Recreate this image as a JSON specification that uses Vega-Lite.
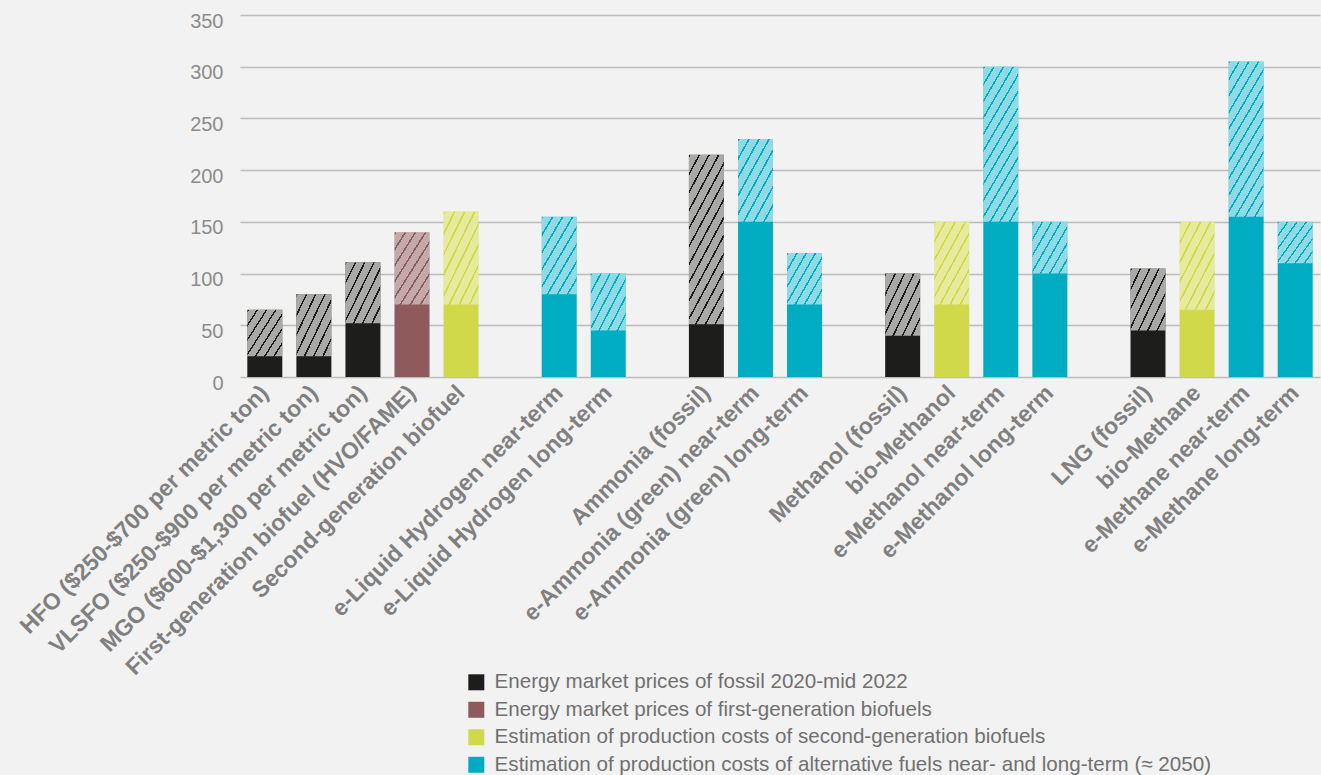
{
  "$schema": "https://vega.github.io/schema/vega-lite/v6.json",
  "width": 1080,
  "height": 362,
  "autosize": "none",
  "padding": {"left": 240, "top": 15, "right": 1, "bottom": 398},
  "background": "#f2f2f2",
  "config": {
    "view": {"stroke": null},
    "font": "Liberation Sans",
    "axisY": {
      "title": null,
      "values": [0, 50, 100, 150, 200, 250, 300, 350],
      "labelFont": "Liberation Sans",
      "labelFontSize": 20,
      "labelColor": "#8c8c8c",
      "labelPadding": 17,
      "labelOffset": 6,
      "ticks": false,
      "domain": false,
      "grid": true,
      "gridColor": "#bcbcbc",
      "gridWidth": 1.6
    },
    "legend": {
      "orient": "none",
      "legendX": 226,
      "legendY": 657,
      "title": null,
      "padding": 0,
      "symbolType": "square",
      "symbolSize": 256,
      "symbolStrokeWidth": 0,
      "symbolOpacity": 1,
      "labelFont": "Liberation Sans",
      "labelFontSize": 20.6,
      "labelColor": "#707070",
      "labelOffset": 8,
      "labelLimit": 1000,
      "rowPadding": 6.5
    }
  },
  "data": {
    "values": [
      {"fuel": "HFO ($250-$700 per metric ton)", "series": "Energy market prices of fossil 2020-mid 2022", "low": 20, "high": 65},
      {"fuel": "VLSFO ($250-$900 per metric ton)", "series": "Energy market prices of fossil 2020-mid 2022", "low": 20, "high": 80},
      {"fuel": "MGO ($600-$1,300 per metric ton)", "series": "Energy market prices of fossil 2020-mid 2022", "low": 52, "high": 111},
      {"fuel": "First-generation biofuel (HVO/FAME)", "series": "Energy market prices of first-generation biofuels", "low": 70, "high": 140},
      {"fuel": "Second-generation biofuel", "series": "Estimation of production costs of second-generation biofuels", "low": 70, "high": 160},
      {"fuel": "e-Liquid Hydrogen near-term", "series": "Estimation of production costs of alternative fuels near- and long-term (≈ 2050)", "low": 80, "high": 155},
      {"fuel": "e-Liquid Hydrogen long-term", "series": "Estimation of production costs of alternative fuels near- and long-term (≈ 2050)", "low": 45, "high": 100},
      {"fuel": "Ammonia (fossil)", "series": "Energy market prices of fossil 2020-mid 2022", "low": 51, "high": 215},
      {"fuel": "e-Ammonia (green) near-term", "series": "Estimation of production costs of alternative fuels near- and long-term (≈ 2050)", "low": 150, "high": 230},
      {"fuel": "e-Ammonia (green) long-term", "series": "Estimation of production costs of alternative fuels near- and long-term (≈ 2050)", "low": 70, "high": 120},
      {"fuel": "Methanol (fossil)", "series": "Energy market prices of fossil 2020-mid 2022", "low": 40, "high": 100},
      {"fuel": "bio-Methanol", "series": "Estimation of production costs of second-generation biofuels", "low": 70, "high": 150},
      {"fuel": "e-Methanol near-term", "series": "Estimation of production costs of alternative fuels near- and long-term (≈ 2050)", "low": 150, "high": 300},
      {"fuel": "e-Methanol long-term", "series": "Estimation of production costs of alternative fuels near- and long-term (≈ 2050)", "low": 100, "high": 150},
      {"fuel": "LNG (fossil)", "series": "Energy market prices of fossil 2020-mid 2022", "low": 45, "high": 105},
      {"fuel": "bio-Methane", "series": "Estimation of production costs of second-generation biofuels", "low": 65, "high": 150},
      {"fuel": "e-Methane near-term", "series": "Estimation of production costs of alternative fuels near- and long-term (≈ 2050)", "low": 155, "high": 305},
      {"fuel": "e-Methane long-term", "series": "Estimation of production costs of alternative fuels near- and long-term (≈ 2050)", "low": 110, "high": 150}
    ]
  },
  "encoding": {
    "x": {
      "field": "fuel",
      "type": "nominal",
      "sort": null,
      "scale": {
        "domain": [
          "HFO ($250-$700 per metric ton)",
          "VLSFO ($250-$900 per metric ton)",
          "MGO ($600-$1,300 per metric ton)",
          "First-generation biofuel (HVO/FAME)",
          "Second-generation biofuel",
          " ",
          "e-Liquid Hydrogen near-term",
          "e-Liquid Hydrogen long-term",
          "  ",
          "Ammonia (fossil)",
          "e-Ammonia (green) near-term",
          "e-Ammonia (green) long-term",
          "   ",
          "Methanol (fossil)",
          "bio-Methanol",
          "e-Methanol near-term",
          "e-Methanol long-term",
          "    ",
          "LNG (fossil)",
          "bio-Methane",
          "e-Methane near-term",
          "e-Methane long-term"
        ],
        "paddingInner": 0.287,
        "paddingOuter": 0.149
      },
      "axis": {
        "title": null,
        "labelAngle": -45,
        "labelAlign": "right",
        "labelBaseline": "middle",
        "labelFont": "Liberation Sans",
        "labelFontSize": 23,
        "labelFontWeight": "bold",
        "labelColor": "#808080",
        "labelPadding": 12,
        "labelOverlap": false,
        "labelLimit": 1000,
        "ticks": false,
        "domain": false,
        "grid": false
      }
    },
    "y": {
      "field": "high",
      "type": "quantitative",
      "scale": {"domain": [0, 350], "nice": false}
    }
  },
  "layer": [
    {
      "mark": {"type": "bar"},
      "encoding": {
        "color": {
          "field": "series",
          "type": "nominal",
          "scale": {
            "domain": [
              "Energy market prices of fossil 2020-mid 2022",
              "Energy market prices of first-generation biofuels",
              "Estimation of production costs of second-generation biofuels",
              "Estimation of production costs of alternative fuels near- and long-term (≈ 2050)"
            ],
            "range": ["#1d1d1b", "#8e5a5c", "#cfd94a", "#00acc1"]
          },
          "legend": {}
        }
      }
    },
    {
      "transform": [{"filter": "datum.high - datum.low < 65"}],
      "mark": {
        "type": "bar",
        "fill": {
          "gradient": "linear", "x1": 0, "y1": 0, "x2": 1.074, "y2": 0.913,
          "stops": [
            {"offset": 0, "color": "rgba(255,255,255,0)"}, {"offset": 0.0257, "color": "rgba(255,255,255,0)"}, {"offset": 0.0257, "color": "#ffffff"}, {"offset": 0.1429, "color": "#ffffff"},
            {"offset": 0.1429, "color": "rgba(255,255,255,0)"}, {"offset": 0.1686, "color": "rgba(255,255,255,0)"}, {"offset": 0.1686, "color": "#ffffff"}, {"offset": 0.2857, "color": "#ffffff"},
            {"offset": 0.2857, "color": "rgba(255,255,255,0)"}, {"offset": 0.3114, "color": "rgba(255,255,255,0)"}, {"offset": 0.3114, "color": "#ffffff"}, {"offset": 0.4286, "color": "#ffffff"},
            {"offset": 0.4286, "color": "rgba(255,255,255,0)"}, {"offset": 0.4543, "color": "rgba(255,255,255,0)"}, {"offset": 0.4543, "color": "#ffffff"}, {"offset": 0.5714, "color": "#ffffff"},
            {"offset": 0.5714, "color": "rgba(255,255,255,0)"}, {"offset": 0.5971, "color": "rgba(255,255,255,0)"}, {"offset": 0.5971, "color": "#ffffff"}, {"offset": 0.7143, "color": "#ffffff"},
            {"offset": 0.7143, "color": "rgba(255,255,255,0)"}, {"offset": 0.74, "color": "rgba(255,255,255,0)"}, {"offset": 0.74, "color": "#ffffff"}, {"offset": 0.8571, "color": "#ffffff"},
            {"offset": 0.8571, "color": "rgba(255,255,255,0)"}, {"offset": 0.8828, "color": "rgba(255,255,255,0)"}, {"offset": 0.8828, "color": "#ffffff"}, {"offset": 1, "color": "#ffffff"}
          ]
        }
      },
      "encoding": {
        "y": {"field": "low", "type": "quantitative"},
        "y2": {"field": "high"},
        "opacity": {
          "condition": [
            {"test": "datum.series === 'Energy market prices of fossil 2020-mid 2022'", "value": 0.62},
            {"test": "datum.series === 'Energy market prices of first-generation biofuels'", "value": 0.48},
            {"test": "datum.series === 'Estimation of production costs of second-generation biofuels'", "value": 0.46}
          ],
          "value": 0.56
        }
      }
    },
    {
      "transform": [{"filter": "datum.high - datum.low >= 65 && datum.high - datum.low <= 120"}],
      "mark": {
        "type": "bar",
        "fill": {
          "gradient": "linear", "x1": 0, "y1": 0, "x2": 0.855, "y2": 1.112,
          "stops": [
            {"offset": 0, "color": "rgba(255,255,255,0)"}, {"offset": 0.0225, "color": "rgba(255,255,255,0)"}, {"offset": 0.0225, "color": "#ffffff"}, {"offset": 0.125, "color": "#ffffff"},
            {"offset": 0.125, "color": "rgba(255,255,255,0)"}, {"offset": 0.1475, "color": "rgba(255,255,255,0)"}, {"offset": 0.1475, "color": "#ffffff"}, {"offset": 0.25, "color": "#ffffff"},
            {"offset": 0.25, "color": "rgba(255,255,255,0)"}, {"offset": 0.2725, "color": "rgba(255,255,255,0)"}, {"offset": 0.2725, "color": "#ffffff"}, {"offset": 0.375, "color": "#ffffff"},
            {"offset": 0.375, "color": "rgba(255,255,255,0)"}, {"offset": 0.3975, "color": "rgba(255,255,255,0)"}, {"offset": 0.3975, "color": "#ffffff"}, {"offset": 0.5, "color": "#ffffff"},
            {"offset": 0.5, "color": "rgba(255,255,255,0)"}, {"offset": 0.5225, "color": "rgba(255,255,255,0)"}, {"offset": 0.5225, "color": "#ffffff"}, {"offset": 0.625, "color": "#ffffff"},
            {"offset": 0.625, "color": "rgba(255,255,255,0)"}, {"offset": 0.6475, "color": "rgba(255,255,255,0)"}, {"offset": 0.6475, "color": "#ffffff"}, {"offset": 0.75, "color": "#ffffff"},
            {"offset": 0.75, "color": "rgba(255,255,255,0)"}, {"offset": 0.7725, "color": "rgba(255,255,255,0)"}, {"offset": 0.7725, "color": "#ffffff"}, {"offset": 0.875, "color": "#ffffff"},
            {"offset": 0.875, "color": "rgba(255,255,255,0)"}, {"offset": 0.8975, "color": "rgba(255,255,255,0)"}, {"offset": 0.8975, "color": "#ffffff"}, {"offset": 1, "color": "#ffffff"}
          ]
        }
      },
      "encoding": {
        "y": {"field": "low", "type": "quantitative"},
        "y2": {"field": "high"},
        "opacity": {
          "condition": [
            {"test": "datum.series === 'Energy market prices of fossil 2020-mid 2022'", "value": 0.62},
            {"test": "datum.series === 'Energy market prices of first-generation biofuels'", "value": 0.48},
            {"test": "datum.series === 'Estimation of production costs of second-generation biofuels'", "value": 0.46}
          ],
          "value": 0.56
        }
      }
    },
    {
      "transform": [{"filter": "datum.high - datum.low > 120"}],
      "mark": {
        "type": "bar",
        "fill": {
          "gradient": "linear", "x1": 0, "y1": 0, "x2": 0.464, "y2": 1.206,
          "stops": [
            {"offset": 0, "color": "rgba(255,255,255,0)"}, {"offset": 0.0138, "color": "rgba(255,255,255,0)"}, {"offset": 0.0138, "color": "#ffffff"}, {"offset": 0.0769, "color": "#ffffff"},
            {"offset": 0.0769, "color": "rgba(255,255,255,0)"}, {"offset": 0.0907, "color": "rgba(255,255,255,0)"}, {"offset": 0.0907, "color": "#ffffff"}, {"offset": 0.1538, "color": "#ffffff"},
            {"offset": 0.1538, "color": "rgba(255,255,255,0)"}, {"offset": 0.1676, "color": "rgba(255,255,255,0)"}, {"offset": 0.1676, "color": "#ffffff"}, {"offset": 0.2308, "color": "#ffffff"},
            {"offset": 0.2308, "color": "rgba(255,255,255,0)"}, {"offset": 0.2446, "color": "rgba(255,255,255,0)"}, {"offset": 0.2446, "color": "#ffffff"}, {"offset": 0.3077, "color": "#ffffff"},
            {"offset": 0.3077, "color": "rgba(255,255,255,0)"}, {"offset": 0.3215, "color": "rgba(255,255,255,0)"}, {"offset": 0.3215, "color": "#ffffff"}, {"offset": 0.3846, "color": "#ffffff"},
            {"offset": 0.3846, "color": "rgba(255,255,255,0)"}, {"offset": 0.3984, "color": "rgba(255,255,255,0)"}, {"offset": 0.3984, "color": "#ffffff"}, {"offset": 0.4615, "color": "#ffffff"},
            {"offset": 0.4615, "color": "rgba(255,255,255,0)"}, {"offset": 0.4753, "color": "rgba(255,255,255,0)"}, {"offset": 0.4753, "color": "#ffffff"}, {"offset": 0.5385, "color": "#ffffff"},
            {"offset": 0.5385, "color": "rgba(255,255,255,0)"}, {"offset": 0.5523, "color": "rgba(255,255,255,0)"}, {"offset": 0.5523, "color": "#ffffff"}, {"offset": 0.6154, "color": "#ffffff"},
            {"offset": 0.6154, "color": "rgba(255,255,255,0)"}, {"offset": 0.6292, "color": "rgba(255,255,255,0)"}, {"offset": 0.6292, "color": "#ffffff"}, {"offset": 0.6923, "color": "#ffffff"},
            {"offset": 0.6923, "color": "rgba(255,255,255,0)"}, {"offset": 0.7061, "color": "rgba(255,255,255,0)"}, {"offset": 0.7061, "color": "#ffffff"}, {"offset": 0.7692, "color": "#ffffff"},
            {"offset": 0.7692, "color": "rgba(255,255,255,0)"}, {"offset": 0.783, "color": "rgba(255,255,255,0)"}, {"offset": 0.783, "color": "#ffffff"}, {"offset": 0.8462, "color": "#ffffff"},
            {"offset": 0.8462, "color": "rgba(255,255,255,0)"}, {"offset": 0.86, "color": "rgba(255,255,255,0)"}, {"offset": 0.86, "color": "#ffffff"}, {"offset": 0.9231, "color": "#ffffff"},
            {"offset": 0.9231, "color": "rgba(255,255,255,0)"}, {"offset": 0.9369, "color": "rgba(255,255,255,0)"}, {"offset": 0.9369, "color": "#ffffff"}, {"offset": 1, "color": "#ffffff"}
          ]
        }
      },
      "encoding": {
        "y": {"field": "low", "type": "quantitative"},
        "y2": {"field": "high"},
        "opacity": {
          "condition": [
            {"test": "datum.series === 'Energy market prices of fossil 2020-mid 2022'", "value": 0.62},
            {"test": "datum.series === 'Energy market prices of first-generation biofuels'", "value": 0.48},
            {"test": "datum.series === 'Estimation of production costs of second-generation biofuels'", "value": 0.46}
          ],
          "value": 0.56
        }
      }
    }
  ]
}
